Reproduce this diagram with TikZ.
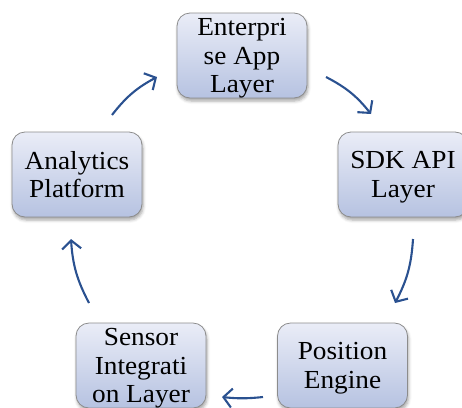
\documentclass[tikz,border=0pt]{standalone}
\usepackage{fontspec}
\setmainfont[FakeStretch=1.05]{Liberation Serif}
\usetikzlibrary{arrows.meta,shadows.blur}

\definecolor{boxtop}{HTML}{EAEDF7}
\definecolor{boxbottom}{HTML}{B6C2E1}
\definecolor{boxedge}{HTML}{8C8C8C}
\definecolor{arrowblue}{HTML}{2A5190}

\begin{document}
\begin{tikzpicture}[x=1pt,y=1pt,
  layerbox/.style={draw=boxedge, line width=0.8pt, rounded corners=13pt,
    top color=boxtop, bottom color=boxbottom,
    minimum width=130pt, minimum height=85pt, inner sep=0pt,
    align=center, font=\fontsize{26}{28.8}\selectfont, text depth=0pt,
    blur shadow={shadow xshift=1pt, shadow yshift=-3pt,
      shadow blur radius=3pt, shadow opacity=35}},
  cyclearrow/.style={draw=arrowblue, line width=2.1pt,
    -{Straight Barb[length=8.5pt,width=19pt,line width=2.1pt]}}]

\useasboundingbox (0,-407) rectangle (462,0);
\clip (0,-407) rectangle (462,0);

% the five layers of the cycle
\node[layerbox] (enterprise) at (242,-55.5) {Enterpri\\se App\\Layer};
\node[layerbox] (sdk)        at (403,-174.5) {SDK API\\Layer};
\node[layerbox] (position)   at (342.5,-365.5) {Position\\Engine};
\node[layerbox] (sensor)     at (141,-365.5) {Sensor\\Integrati\\on Layer};
\node[layerbox] (analytics)  at (77,-174.5) {Analytics\\Platform};

% arrow end points in the gaps between the boxes
\coordinate (a1s) at (112,-115);
\coordinate (a1e) at (157,-77);
\coordinate (a2s) at (326,-77);
\coordinate (a2e) at (371,-114);
\coordinate (a3s) at (413,-239);
\coordinate (a3e) at (395,-303);
\coordinate (a4s) at (263,-397);
\coordinate (a4e) at (222,-397);
\coordinate (a5s) at (89,-303);
\coordinate (a5e) at (71,-239);

% clockwise flow
\draw[cyclearrow] (a1s) to[bend left=12] (a1e);
\draw[cyclearrow] (a2s) to[bend left=12] (a2e);
\draw[cyclearrow] (a3s) to[bend left=12] (a3e);
\draw[cyclearrow] (a4s) to[bend left=6] (a4e);
\draw[cyclearrow] (a5s) to[bend left=12] (a5e);
\end{tikzpicture}
\end{document}
